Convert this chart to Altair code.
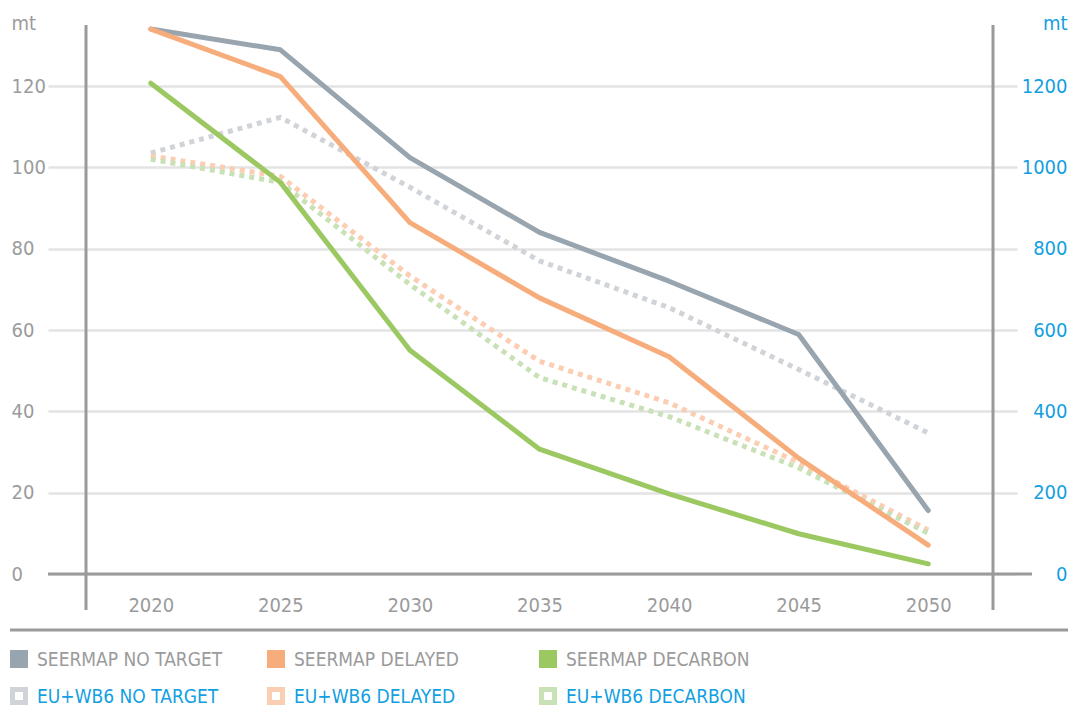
import altair as alt
import pandas as pd

years = [2020, 2025, 2030, 2035, 2040, 2045, 2050]

seermap_no_target = [134.0, 128.9, 102.4, 84.0, 72.0, 58.9, 15.6]
seermap_delayed = [134.0, 122.3, 86.4, 67.9, 53.4, 28.5, 7.1]
seermap_decarbon = [120.7, 96.3, 55.0, 30.7, 19.7, 9.9, 2.5]

euwb6_no_target = [1035, 1123, 951, 770, 655, 503, 347]
euwb6_delayed = [1028, 978, 733, 523, 421, 274, 108]
euwb6_decarbon = [1020, 963, 712, 483, 387, 261, 100]

seermap_names = ["SEERMAP NO TARGET", "SEERMAP DELAYED", "SEERMAP DECARBON"]
euwb6_names = ["EU+WB6 NO TARGET", "EU+WB6 DELAYED", "EU+WB6 DECARBON"]

solid_colors = ["#98a4ae", "#f7ad7b", "#9cc862"]
dotted_colors = ["#d0d3d7", "#fbcdb2", "#c9e1b6"]

left_ticks = [0, 20, 40, 60, 80, 100, 120]
right_ticks = [0, 200, 400, 600, 800, 1000, 1200]

W, H = 907, 549
FONT = "'DejaVu Sans Condensed', 'Liberation Sans Narrow', 'Roboto', sans-serif"
FS = 20
LFS = 19
GRAY_TEXT = "#9b9b9b"
BLUE = "#139fe0"
AXIS_C = "#9a9a9a"
GRID_C = "#e3e3e3"

solid_series = [seermap_no_target, seermap_delayed, seermap_decarbon]
dotted_series = [euwb6_no_target, euwb6_delayed, euwb6_decarbon]

solid_df = pd.DataFrame(
    [{"year": y, "value": v, "series": n}
     for n, vals in zip(seermap_names, solid_series) for y, v in zip(years, vals)]
)
dotted_df = pd.DataFrame(
    [{"year": y, "value": v, "series": n}
     for n, vals in zip(euwb6_names, dotted_series) for y, v in zip(years, vals)]
)

x_enc = alt.X(
    "year:Q",
    scale=alt.Scale(domain=[2017.5, 2052.5], nice=False, zero=False),
    axis=alt.Axis(values=years, format="d", domain=False, ticks=False, grid=False,
                  labelPadding=31, labelBaseline="middle", labelFont=FONT,
                  labelFontSize=FS, labelColor=GRAY_TEXT, title=None),
)

solid = alt.Chart(solid_df).mark_line(
    strokeWidth=5, strokeCap="round", strokeJoin="round"
).encode(
    x=x_enc,
    y=alt.Y("value:Q", scale=alt.Scale(domain=[0, 135], nice=False),
            axis=alt.Axis(orient="left", values=left_ticks, format="d", domain=False,
                          tickSize=38, tickColor=GRID_C, tickWidth=2.5,
                          grid=True, gridColor=GRID_C, gridWidth=2.5,
                          labelAlign="left", labelPadding=37, labelFont=FONT,
                          labelFontSize=FS, labelColor=GRAY_TEXT,
                          title="mt", titleAngle=0, titleX=-75, titleY=-2,
                          titleAlign="left", titleBaseline="middle", titleFont=FONT,
                          titleFontSize=FS, titleColor=GRAY_TEXT, titleFontWeight="normal")),
    color=alt.Color("series:N", scale=alt.Scale(domain=seermap_names, range=solid_colors), legend=None),
)

dotted = alt.Chart(dotted_df).mark_line(
    strokeWidth=5, strokeDash=[5, 5], strokeJoin="miter"
).encode(
    x=x_enc,
    y=alt.Y("value:Q", scale=alt.Scale(domain=[0, 1350], nice=False),
            axis=alt.Axis(orient="right", values=right_ticks, format="d", domain=False,
                          tickSize=24, tickColor=GRID_C, tickWidth=2.5, grid=False,
                          labelAlign="right", labelPadding=50, labelFont=FONT,
                          labelFontSize=FS, labelColor=BLUE,
                          title="mt", titleAngle=0, titleX=74, titleY=-2,
                          titleAlign="right", titleBaseline="middle", titleFont=FONT,
                          titleFontSize=FS, titleColor=BLUE, titleFontWeight="normal")),
    color=alt.Color("series:N", scale=alt.Scale(domain=euwb6_names, range=dotted_colors), legend=None),
)

one = pd.DataFrame({"a": [0]})


def rule(x1, x2, y1, y2, color, width):
    return alt.Chart(one).mark_rule(color=color, strokeWidth=width).encode(
        x=alt.value(x1), x2=alt.value(x2), y=alt.value(y1), y2=alt.value(y2)
    )


rules = [
    rule(-76, 982, -19, -19, GRID_C, 3),       # top rule
    rule(-76, 982, 605, 605, AXIS_C, 3),       # bottom rule
    rule(0, 0, 0, 585, AXIS_C, 3),             # left vertical
    rule(W, W, 0, 585, AXIS_C, 3),             # right vertical
    rule(-38, 946, H, H, AXIS_C, 3),           # zero line
]

legend_layers = []
col_x = [-76, 181, 453]
for i in range(3):
    sx = col_x[i]
    legend_layers.append(
        alt.Chart(one).mark_rect(color=solid_colors[i]).encode(
            x=alt.value(sx), x2=alt.value(sx + 18), y=alt.value(625), y2=alt.value(643)
        )
    )
    legend_layers.append(
        alt.Chart(pd.DataFrame({"label": [seermap_names[i]]})).mark_text(
            align="left", baseline="middle", font=FONT, fontSize=LFS, color=GRAY_TEXT
        ).encode(text="label:N", x=alt.value(sx + 27), y=alt.value(635))
    )
    legend_layers.append(
        alt.Chart(one).mark_rect(fill="white", stroke=dotted_colors[i], strokeWidth=5).encode(
            x=alt.value(sx + 2.5), x2=alt.value(sx + 15.5), y=alt.value(664.5), y2=alt.value(677.5)
        )
    )
    legend_layers.append(
        alt.Chart(pd.DataFrame({"label": [euwb6_names[i]]})).mark_text(
            align="left", baseline="middle", font=FONT, fontSize=LFS, color=BLUE
        ).encode(text="label:N", x=alt.value(sx + 27), y=alt.value(672))
    )

chart = alt.layer(
    dotted, solid, *rules, *legend_layers
).resolve_scale(
    y="independent", color="independent"
).properties(
    width=W, height=H,
    autosize=alt.AutoSizeParams(type="none"),
    padding={"left": 78, "top": 17, "right": 79, "bottom": 140},
).configure_view(stroke=None)

chart.save("out.html", embed_options={"renderer": "svg", "actions": False})
